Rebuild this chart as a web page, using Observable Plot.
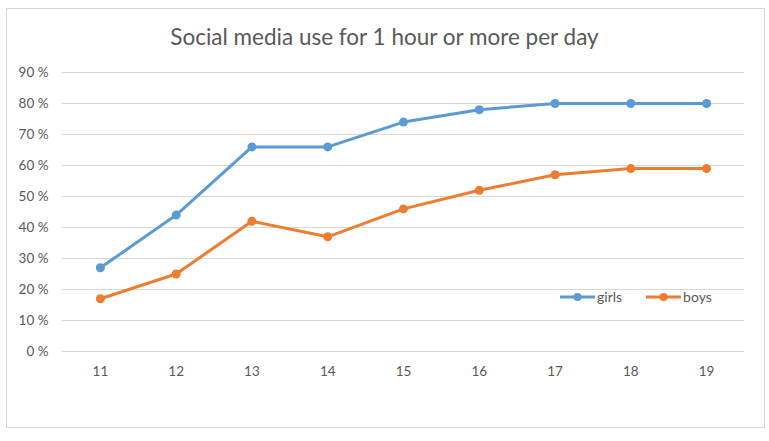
<!DOCTYPE html>
<html>
<head>
<meta charset="utf-8">
<script src="https://cdn.jsdelivr.net/npm/d3@7"></script>
<script src="https://cdn.jsdelivr.net/npm/@observablehq/plot@0.6"></script>
<style>
  html, body { margin: 0; padding: 0; background: #fff; }
  #wrap { position: relative; width: 769px; height: 441px; font-family: Lato, "Open Sans", sans-serif; }
  #border { position: absolute; left: 6px; top: 8px; width: 759px; height: 420px; border: 1px solid #D9D9D9; box-sizing: border-box; }
  #chart { position: absolute; left: 0; top: 0; }
  #title { position: absolute; left: 0; top: 23px; width: 769px; text-align: center; font-size: 22.5px; color: #595959; }
  #legend { position: absolute; left: 560px; top: 288px; font-size: 14px; color: #595959; display: flex; align-items: center; }
  .item { display: flex; align-items: center; margin-right: 24px; }
  .item span { margin-left: 2px; }
</style>
</head>
<body>
<div id="wrap">
  <div id="border"></div>
  <div id="chart"></div>
  <div id="title">Social media use for 1 hour or more per day</div>
  <div id="legend"></div>
</div>
<script>
const ages = [11, 12, 13, 14, 15, 16, 17, 18, 19];
const girls = [27, 44, 66, 66, 74, 78, 80, 80, 80];
const boys = [17, 25, 42, 37, 46, 52, 57, 59, 59];
const yTicks = [0, 10, 20, 30, 40, 50, 60, 70, 80, 90];
const seriesNames = ["girls", "boys"];
const colors = ["#5B9BD5", "#ED7D31"];

const data = [];
ages.forEach((a, i) => {
  data.push({age: a, value: girls[i], series: "girls"});
});
ages.forEach((a, i) => {
  data.push({age: a, value: boys[i], series: "boys"});
});

const plot = Plot.plot({
  width: 769,
  height: 441,
  marginLeft: 62,
  marginRight: 25,
  marginTop: 72,
  marginBottom: 90,
  style: {fontFamily: "Lato, 'Open Sans', sans-serif", fontSize: "13.5px", color: "#595959", background: "transparent"},
  x: {type: "point", domain: ages, padding: 0.5, round: false, label: null},
  y: {domain: [0, 90], label: null},
  color: {domain: seriesNames, range: colors},
  marks: [
    Plot.ruleY(yTicks, {stroke: "#D9D9D9", strokeWidth: 1}),
    Plot.axisY({ticks: yTicks, tickSize: 0, tickPadding: 14, tickFormat: d => d + " %", label: null, fontSize: 13.5, fill: "#595959"}),
    Plot.axisX({tickSize: 0, tickPadding: 15, label: null, fontSize: 13.5, fill: "#595959"}),
    Plot.line(data, {x: "age", y: "value", z: "series", stroke: "series", strokeWidth: 3, strokeLinejoin: "round"}),
    Plot.dot(data, {x: "age", y: "value", fill: "series", r: 4.5})
  ]
});
document.getElementById("chart").appendChild(plot);

const legend = document.getElementById("legend");
seriesNames.forEach((name, i) => {
  const item = document.createElement("div");
  item.className = "item";
  item.innerHTML = `<svg width="35" height="12"><line x1="0" y1="6" x2="35" y2="6" stroke="${colors[i]}" stroke-width="3"/><circle cx="17.5" cy="6" r="4" fill="${colors[i]}"/></svg><span>${name}</span>`;
  legend.appendChild(item);
});
</script>
</body>
</html>
